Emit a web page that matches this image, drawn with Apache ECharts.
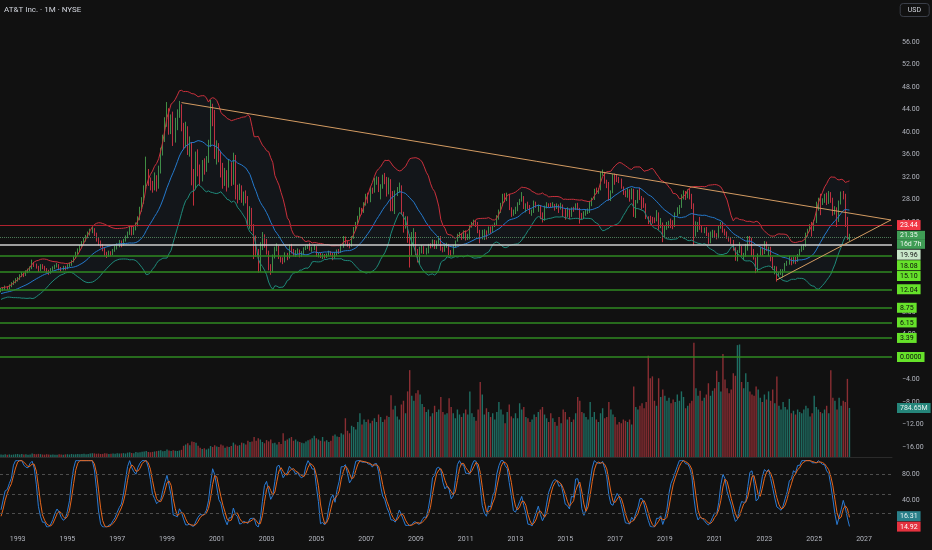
<!DOCTYPE html>
<html><head><meta charset="utf-8">
<script src="https://cdn.jsdelivr.net/npm/echarts@6/dist/echarts.min.js"></script>
<style>html,body{margin:0;padding:0;background:#111111;}#c{width:932px;height:550px;}</style>
</head><body><div id="c"></div>
<script>
// ---------- DATA (monthly) ----------
// closes before the visible window (used only to warm up the indicators)
const warmupClose = [
 8.6, 8.9, 9.1, 9.0, 9.3, 9.5, 9.8, 9.6, 9.9, 9.7, 9.4, 9.5,
 9.6, 9.4, 9.7, 9.9, 10.2, 10.0, 9.8, 9.5, 9.7, 10.1, 10.4, 10.6,
 10.9, 11.2, 11.0, 10.8, 11.1, 10.9, 11.3, 11.5, 11.8, 11.6, 11.4, 12.0,
 11.8, 11.5, 11.6, 11.9
];
const firstMonth = '1992-05';
// monthly closes May 1992 .. Jun 2026
const closes = [
 11.9, 12.1, 12.4, 12.2, 12.7, 13.0, 13.4, 13.7,
 13.9, 14.4, 14.8, 14.6, 15.1, 15.4, 15.8, 16.7, 16.3, 16.0, 15.5, 16.2,
 15.9, 15.6, 15.2, 15.0, 15.5, 15.8, 16.1, 16.3, 15.7, 15.6, 15.9, 15.8,
 16.2, 16.4, 16.9, 17.6, 18.4, 18.9, 19.6, 20.2, 20.8, 21.3, 21.9, 22.4,
 22.6, 21.8, 20.9, 20.3, 19.8, 19.2, 18.3, 18.0, 18.5, 18.2, 18.9, 19.4,
 19.7, 20.4, 20.0, 20.7, 21.3, 21.9, 23.0, 22.0, 22.8, 23.4, 24.6, 26.3,
 27.6, 29.8, 32.8, 31.2, 30.4, 30.0, 31.8, 30.6, 33.2, 36.4, 38.6, 41.6,
 43.6, 40.2, 42.3, 38.6, 41.2, 43.4, 44.6, 40.8, 38.2, 40.0, 36.8, 37.6,
 32.6, 30.2, 35.6, 33.4, 31.8, 34.2, 33.6, 35.0, 38.0, 43.8, 43.4, 36.3,
 36.9, 36.2, 33.9, 31.4, 32.5, 30.5, 34.3, 31.1, 35.8, 29.0, 28.4, 29.8,
 28.4, 28.7, 28.4, 23.6, 26.1, 23.2, 21.1, 18.8, 15.3, 19.5, 21.6, 20.6,
 18.6, 15.7, 15.3, 17.8, 19.2, 19.5, 17.7, 17.1, 16.9, 18.2, 17.6, 19.8,
 18.7, 18.2, 18.6, 18.9, 18.0, 18.5, 19.2, 19.5, 19.7, 19.2, 19.2, 19.6,
 18.1, 18.2, 18.0, 18.1, 17.9, 18.1, 18.6, 18.3, 18.2, 18.2, 18.9, 18.6,
 19.7, 21.0, 20.5, 19.9, 19.8, 21.2, 22.8, 23.6, 24.8, 26.1, 25.8, 27.2,
 28.6, 28.0, 29.9, 29.4, 31.4, 31.5, 29.8, 30.3, 32.1, 31.8, 29.0, 31.6,
 29.3, 26.4, 29.1, 29.4, 30.3, 25.6, 23.4, 24.3, 21.2, 20.4, 21.7, 21.7,
 18.7, 18.1, 19.2, 19.5, 18.8, 18.8, 19.9, 19.8, 20.5, 19.5, 20.4, 21.3,
 19.3, 18.8, 19.6, 19.8, 18.5, 18.4, 19.7, 20.5, 21.7, 21.7, 21.1, 22.3,
 20.9, 21.6, 23.3, 23.6, 24.0, 23.9, 22.3, 21.7, 21.7, 22.3, 22.0, 23.0,
 22.3, 23.3, 23.7, 25.0, 26.0, 27.1, 28.8, 27.9, 28.7, 26.3, 25.6, 25.6,
 26.4, 27.3, 27.9, 28.5, 26.6, 26.9, 26.8, 25.7, 25.7, 27.5, 26.8, 26.8,
 25.3, 24.2, 26.7, 27.1, 27.0, 26.9, 27.1, 26.6, 26.8, 26.4, 26.9, 25.5,
 25.0, 26.3, 24.9, 26.3, 26.2, 27.0, 26.4, 25.2, 24.8, 25.5, 25.6, 26.1,
 27.4, 28.0, 29.8, 29.5, 29.8, 32.8, 32.9, 31.1, 30.9, 28.0, 29.3, 32.3,
 32.1, 31.8, 31.6, 30.1, 29.3, 28.7, 29.6, 28.5, 29.8, 25.5, 27.7, 29.6,
 28.5, 27.6, 27.1, 24.9, 24.5, 24.4, 24.3, 24.2, 25.5, 23.3, 23.7, 21.7,
 22.9, 23.6, 23.9, 23.6, 23.3, 25.5, 25.9, 26.8, 28.7, 29.3, 28.4, 29.7,
 28.6, 26.8, 22.2, 23.2, 23.5, 23.0, 22.5, 22.6, 21.7, 20.5, 21.9, 21.9,
 21.7, 21.2, 23.0, 23.9, 22.3, 21.9, 21.3, 20.8, 20.5, 19.2, 17.3, 18.7,
 19.4, 18.0, 18.0, 18.9, 21.3, 21.0, 18.8, 17.5, 15.3, 18.2, 19.3, 18.4,
 20.4, 18.9, 19.3, 17.7, 15.7, 16.0, 14.5, 14.8, 15.0, 15.4, 16.6, 16.8,
 17.7, 16.9, 17.6, 16.9, 18.2, 19.1, 19.3, 19.9, 22.0, 22.5, 23.2, 22.8,
 24.0, 27.3, 28.2, 27.7, 27.8, 28.9, 27.5, 29.2, 28.0, 25.6, 26.4, 24.2,
 27.5, 29.1, 28.7, 23.6, 21.0, 21.35
];
const highs = [
 12.3, 12.4, 12.7, 12.6, 12.9, 13.3, 13.6, 14.0,
 14.2, 14.7, 15.1, 15.0, 15.4, 15.7, 16.1, 17.3, 16.9, 16.6, 16.2, 16.5,
 16.5, 16.2, 15.8, 15.5, 15.8, 16.1, 16.4, 16.7, 16.5, 16.0, 16.2, 16.2,
 16.5, 16.8, 17.2, 17.9, 18.7, 19.3, 19.9, 20.6, 21.2, 21.7, 22.3, 22.8,
 23.1, 22.9, 22.1, 21.3, 20.7, 20.1, 19.5, 18.7, 18.9, 18.8, 19.2, 19.8,
 20.2, 20.8, 20.7, 21.0, 21.6, 22.3, 23.4, 23.3, 23.1, 23.9, 25.0, 26.7,
 28.4, 30.5, 35.6, 33.4, 31.9, 31.3, 32.8, 32.3, 34.0, 37.2, 39.5, 42.6,
 45.3, 44.2, 43.1, 43.6, 42.5, 44.0, 45.5, 44.9, 41.6, 41.8, 41.0, 39.2,
 38.2, 33.4, 36.5, 36.9, 34.2, 35.0, 35.3, 35.7, 38.6, 45.7, 45.0, 43.9,
 38.5, 38.0, 36.5, 34.5, 33.6, 33.2, 35.1, 34.6, 36.3, 35.9, 30.6, 30.8,
 30.5, 29.4, 29.6, 28.6, 26.8, 26.5, 23.6, 21.6, 19.2, 20.4, 22.2, 21.8,
 21.0, 18.9, 16.5, 18.2, 19.6, 20.2, 19.8, 17.9, 17.7, 18.6, 18.5, 20.0,
 20.1, 19.2, 19.0, 19.3, 19.1, 18.8, 19.5, 19.8, 20.0, 20.3, 19.6, 20.0,
 19.7, 18.5, 18.5, 18.4, 18.3, 18.4, 18.9, 18.8, 18.5, 18.6, 19.1, 19.2,
 20.1, 21.5, 21.4, 20.7, 20.3, 21.5, 23.1, 24.0, 25.1, 26.6, 26.5, 27.5,
 29.0, 29.2, 30.2, 30.1, 31.8, 32.1, 32.0, 30.7, 32.4, 32.7, 32.0, 31.9,
 31.6, 29.5, 29.6, 30.2, 31.0, 30.5, 25.8, 25.0, 25.0, 21.8, 22.2, 22.9,
 22.2, 19.2, 19.6, 19.9, 19.7, 19.4, 20.1, 20.2, 20.9, 20.8, 20.7, 21.5,
 21.5, 19.6, 19.9, 20.3, 20.1, 19.0, 19.9, 20.7, 21.9, 22.2, 22.0, 22.5,
 22.5, 21.9, 23.5, 24.0, 24.4, 24.3, 24.0, 22.6, 22.6, 22.7, 22.5, 23.2,
 23.2, 23.5, 23.9, 25.2, 26.2, 27.4, 29.0, 29.1, 29.2, 29.0, 26.6, 26.2,
 26.7, 27.5, 28.1, 29.3, 28.6, 27.3, 27.6, 27.0, 26.2, 27.8, 27.6, 27.1,
 27.0, 25.7, 26.9, 27.5, 27.3, 27.4, 27.5, 27.2, 27.3, 27.1, 27.4, 27.1,
 26.4, 26.6, 26.4, 26.6, 26.7, 27.3, 27.4, 26.5, 25.6, 25.9, 26.2, 26.4,
 27.7, 28.3, 29.9, 30.1, 30.0, 32.9, 33.3, 32.9, 31.5, 31.1, 29.6, 32.5,
 32.6, 32.4, 32.0, 31.7, 30.3, 29.6, 30.0, 29.8, 30.0, 29.9, 27.9, 29.7,
 30.1, 28.6, 28.3, 27.3, 25.0, 25.1, 24.9, 24.8, 26.1, 25.7, 24.7, 23.9,
 23.4, 24.0, 24.2, 24.6, 24.3, 25.7, 26.6, 27.0, 28.9, 29.6, 29.5, 29.8,
 29.9, 29.0, 27.3, 24.1, 24.0, 24.9, 23.4, 23.0, 23.1, 22.1, 22.3, 22.6,
 22.5, 22.0, 23.3, 24.0, 24.0, 22.8, 22.3, 21.4, 21.2, 20.8, 19.5, 19.0,
 20.4, 19.7, 18.5, 20.1, 21.5, 21.5, 21.2, 19.2, 17.7, 18.4, 19.5, 19.6,
 20.6, 20.5, 19.6, 19.6, 17.8, 16.2, 16.1, 15.1, 15.6, 15.6, 16.7, 17.1,
 18.0, 17.7, 17.8, 17.8, 18.3, 19.2, 19.8, 20.0, 22.1, 22.8, 23.6, 24.0,
 24.4, 27.6, 28.3, 29.0, 28.2, 29.0, 29.2, 29.5, 29.3, 28.3, 26.8, 26.6,
 27.8, 29.4, 29.5, 29.0, 24.9, 21.9
];
const lows = [
 11.5, 11.7, 11.9, 11.9, 12.0, 12.4, 12.8, 13.1,
 13.4, 13.7, 14.2, 14.2, 14.4, 14.9, 15.2, 15.6, 16.0, 15.7, 15.1, 15.3,
 15.6, 15.3, 14.9, 14.6, 14.8, 15.3, 15.6, 15.9, 15.4, 15.2, 15.4, 15.4,
 15.6, 16.0, 16.2, 16.8, 17.5, 18.2, 18.8, 19.3, 20.0, 20.5, 21.1, 21.6,
 22.0, 21.5, 20.5, 19.8, 19.4, 18.8, 17.9, 17.6, 17.8, 17.9, 18.1, 18.7,
 19.1, 19.5, 19.5, 19.8, 20.5, 21.1, 21.7, 21.6, 21.7, 22.5, 23.2, 24.3,
 25.8, 27.2, 29.5, 30.4, 29.6, 29.2, 29.6, 29.4, 29.9, 32.6, 35.8, 38.2,
 40.9, 39.5, 39.6, 37.5, 38.1, 40.3, 42.5, 40.1, 36.9, 37.2, 35.9, 35.6,
 30.5, 26.9, 29.8, 32.1, 30.6, 31.2, 32.4, 32.9, 34.5, 37.3, 41.0, 35.2,
 34.2, 34.6, 31.9, 29.9, 30.4, 29.4, 30.1, 30.4, 30.6, 28.0, 27.3, 27.9,
 27.4, 26.9, 27.3, 23.1, 22.8, 22.4, 17.4, 17.8, 15.0, 15.2, 19.0, 19.4,
 18.2, 15.4, 14.6, 15.0, 17.5, 18.8, 17.4, 16.8, 16.5, 16.8, 17.2, 17.5,
 18.4, 17.9, 17.8, 18.3, 17.7, 17.8, 18.2, 19.0, 19.2, 18.9, 18.7, 19.0,
 17.8, 17.7, 17.6, 17.4, 17.5, 17.6, 17.9, 18.0, 17.2, 17.5, 18.0, 18.3,
 18.5, 19.4, 20.1, 19.6, 19.3, 19.6, 21.0, 22.5, 23.5, 24.6, 25.3, 25.6,
 26.9, 27.3, 27.5, 29.0, 29.2, 30.6, 29.3, 28.0, 29.9, 30.7, 28.5, 28.9,
 25.9, 25.9, 25.4, 28.6, 29.2, 25.3, 22.1, 22.8, 20.3, 15.9, 18.0, 19.6,
 18.1, 16.8, 16.5, 18.4, 18.3, 18.2, 18.4, 19.3, 19.5, 19.2, 19.2, 20.1,
 18.9, 18.6, 18.7, 19.4, 18.1, 17.9, 18.2, 19.4, 20.5, 21.2, 20.8, 21.0,
 20.7, 20.8, 20.9, 23.0, 23.3, 23.1, 22.0, 20.2, 20.9, 20.8, 20.9, 21.9,
 21.9, 22.1, 23.1, 23.4, 24.4, 25.6, 26.8, 27.5, 27.7, 26.1, 24.9, 25.1,
 25.4, 25.9, 27.0, 27.6, 26.3, 25.7, 26.3, 25.4, 25.1, 25.6, 26.5, 25.8,
 24.5, 23.9, 24.2, 26.4, 26.6, 26.6, 26.6, 26.0, 26.3, 25.6, 26.2, 24.9,
 24.4, 24.9, 24.5, 24.9, 25.8, 26.1, 26.1, 23.7, 24.5, 24.5, 25.1, 25.4,
 25.6, 26.8, 27.9, 29.0, 29.0, 29.6, 32.2, 30.8, 30.0, 27.8, 27.7, 29.1,
 30.6, 31.1, 30.9, 29.9, 28.8, 28.4, 28.3, 27.6, 28.0, 24.9, 24.7, 27.3,
 27.9, 26.2, 26.5, 24.5, 23.6, 23.5, 23.7, 23.8, 24.1, 22.6, 22.9, 20.4,
 21.1, 22.6, 22.9, 22.9, 22.7, 23.1, 25.0, 25.4, 26.5, 28.0, 27.9, 28.2,
 28.0, 26.3, 19.8, 21.4, 22.2, 22.6, 22.1, 22.0, 21.5, 20.1, 20.2, 21.3,
 21.2, 20.9, 21.1, 22.8, 22.1, 21.6, 21.0, 20.5, 20.1, 18.9, 17.1, 17.0,
 18.5, 17.9, 17.2, 17.8, 18.9, 20.1, 17.9, 17.3, 14.9, 15.1, 18.0, 18.0,
 18.3, 18.8, 17.9, 17.0, 15.5, 14.7, 13.4, 14.2, 14.6, 14.1, 15.2, 16.2,
 16.4, 16.3, 16.6, 16.5, 16.9, 17.9, 18.7, 19.0, 19.6, 21.4, 22.3, 21.4,
 22.4, 23.8, 26.0, 25.2, 27.0, 27.4, 27.0, 27.2, 27.4, 25.1, 25.3, 23.1,
 24.0, 27.1, 28.0, 23.1, 20.8, 20.6
];
// monthly volume, millions of shares
const volumes = [
 40, 35, 45, 38, 42, 36, 40, 45,
 48, 42, 50, 40, 45, 38, 42, 55, 48, 44, 50, 46,
 40, 38, 45, 42, 36, 40, 38, 35, 44, 40, 38, 42,
 45, 40, 48, 42, 46, 50, 44, 48, 52, 46, 50, 55,
 60, 58, 52, 55, 48, 50, 62, 56, 50, 54, 58, 52,
 60, 55, 58, 62, 56, 70, 75, 66, 62, 80, 72, 78,
 85, 90, 95, 80, 76, 82, 88, 94, 100, 110, 92, 98,
 120, 105, 95, 110, 100, 96, 104, 115, 180, 200, 220, 190,
 250, 240, 230, 180, 150, 130, 140, 120, 135, 175, 160, 190,
 170, 160, 200, 185, 150, 170, 160, 175, 230, 200, 180, 190,
 230, 220, 200, 260, 240, 250, 320, 260, 300, 280, 240, 220,
 270, 250, 280, 220, 230, 200, 240, 210, 380, 260, 280, 300,
 320, 260, 280, 250, 240, 230, 220, 250, 270, 280, 300, 340,
 300, 280, 260, 320, 250, 270, 240, 260, 340, 360, 330, 320,
 380, 360, 620, 420, 380, 500, 480, 440, 560, 700, 520, 600,
 560, 600, 540, 580, 620, 560, 680, 640, 560, 600, 660, 640,
 990, 760, 820, 650, 600, 840, 900, 700, 1050, 1390, 980, 900,
 1020, 1070, 1000, 850, 800, 720, 760, 650, 700, 820, 720, 760,
 960, 720, 680, 700, 940, 800, 700, 620, 760, 680, 640, 700,
 760, 680, 1050, 700, 640, 580, 760, 1200, 1000, 680, 780, 720,
 640, 700, 600, 720, 880, 760, 680, 540, 720, 840, 650, 620,
 700, 620, 860, 760, 800, 640, 620, 560, 600, 680, 640, 720,
 760, 800, 680, 620, 560, 700, 620, 560, 500, 640, 540, 760,
 720, 600, 640, 560, 600, 700, 960, 900, 720, 700, 640, 600,
 880, 640, 720, 600, 560, 700, 780, 620, 640, 880, 760, 680,
 640, 520, 560, 540, 600, 580, 560, 600, 520, 1130, 800, 760,
 820, 860, 780, 880, 1620, 1260, 1290, 900, 820, 1260, 960, 1080,
 980, 900, 950, 860, 920, 880, 1000, 900, 1050, 960, 780, 820,
 860, 900, 1830, 1100, 980, 1060, 900, 950, 1000, 1180, 980, 1060,
 1100, 1380, 1200, 1050, 1650, 1240, 1100, 1020, 1080, 1340, 1300, 1790,
 1800, 1200, 1100, 1340, 1200, 1050, 1000, 980, 1130, 1080, 950, 880,
 1000, 920, 1050, 900, 1080, 860, 1290, 820, 760, 880, 800, 760,
 930, 700, 740, 680, 760, 720, 700, 760, 820, 780, 650, 700,
 980, 800, 760, 720, 700, 760, 820, 700, 1390, 950, 900, 760,
 950, 820, 900, 880, 1250, 784.65
];
const monthsShown = 430;               // May 1992 .. Feb 2028
const yearLabels = ['1993','1995','1997','1999','2001','2003','2005','2007','2009','2011','2013','2015','2017','2019','2021','2023','2025','2027'];
const levels = [23.44, 21.35, 19.96, 18.08, 15.10, 12.04, 8.75, 6.15, 3.39, 0];
const levelText = ['23.44', '21.35', '19.96', '18.08', '15.10', '12.04', '8.75', '6.15', '3.39', '0.0000'];
const countdownText = '16d 7h';
const upperTrend = [['1999-08', 45.2], ['2028-02', 24.35]];
const lowerTrend = [['2023-07', 13.7], ['2028-02', 24.35]];
const stochLast = { k: 16.31, d: 14.92 };
const stochGuides = [80, 50, 20];
const title = 'AT&T Inc. · 1M · NYSE';

// ---------- styles (kept apart from the data) ----------
const GREEN_LINE = '#2f8a22', LIME = '#66e22a';
const CLEAR = 'rgba(0,0,0,0)';
const levelStyle = [
  { line: '#b0222f', w: 1.2, type: 'solid',  bg: '#f23645', fg: '#ffffff', dy: 0 },
  { line: '#4d7a57', w: 1,   type: 'dotted', bg: '#3f9c55', fg: '#eaf6ec', dy: 3 },
  { line: '#cfcfcf', w: 1.5, type: 'solid',  bg: '#c8e6c9', fg: '#151515', dy: 10 },
  { line: GREEN_LINE, w: 1.5, type: 'solid', bg: LIME, fg: '#0d0d0d', dy: 10 },
  { line: GREEN_LINE, w: 1.5, type: 'solid', bg: LIME, fg: '#0d0d0d', dy: 4 },
  { line: GREEN_LINE, w: 1.5, type: 'solid', bg: LIME, fg: '#0d0d0d', dy: 0 },
  { line: GREEN_LINE, w: 1.5, type: 'solid', bg: LIME, fg: '#0d0d0d', dy: 0 },
  { line: GREEN_LINE, w: 1.5, type: 'solid', bg: LIME, fg: '#0d0d0d', dy: 0 },
  { line: GREEN_LINE, w: 1.5, type: 'solid', bg: LIME, fg: '#0d0d0d', dy: 0 },
  { line: GREEN_LINE, w: 1.5, type: 'solid', bg: LIME, fg: '#0d0d0d', dy: 0 }
];
const FONT = 'Roboto, "Noto Sans", sans-serif';
const AXIS_TXT = '#b2b5be';

// ---------- categories ----------
const cats = [];
{
  const y0 = +firstMonth.slice(0, 4), m0 = +firstMonth.slice(5) - 1;
  for (let k = 0; k < monthsShown; k++) {
    const a = y0 * 12 + m0 + k;
    cats.push(Math.floor(a / 12) + '-' + String(a % 12 + 1).padStart(2, '0'));
  }
}

// ---------- indicators computed from the closes ----------
const allClose = warmupClose.concat(closes);
const W = warmupClose.length;
const N = allClose.length;
const bbU = [], bbB = [], bbL = [];
for (let i = 0; i < N; i++) {
  if (i < 19) { bbU.push(null); bbB.push(null); bbL.push(null); continue; }
  let s = 0; for (let j = i - 19; j <= i; j++) s += allClose[j];
  const mean = s / 20;
  let v = 0; for (let j = i - 19; j <= i; j++) v += (allClose[j] - mean) ** 2;
  const sd = Math.sqrt(v / 20);
  bbB.push(mean); bbU.push(mean + 2 * sd); bbL.push(mean - 2 * sd);
}
function rsi(src, n) {
  const out = new Array(src.length).fill(null);
  let ag = 0, al = 0;
  for (let i = 1; i < src.length; i++) {
    const ch = src[i] - src[i - 1], g = Math.max(ch, 0), l = Math.max(-ch, 0);
    if (i <= n) { ag += g; al += l; if (i === n) { ag /= n; al /= n; out[i] = al === 0 ? 100 : 100 - 100 / (1 + ag / al); } }
    else { ag = (ag * (n - 1) + g) / n; al = (al * (n - 1) + l) / n; out[i] = al === 0 ? 100 : 100 - 100 / (1 + ag / al); }
  }
  return out;
}
function smaArr(src, n) {
  return src.map((_, i) => {
    if (i < n - 1) return null;
    let s = 0; for (let j = i - n + 1; j <= i; j++) { if (src[j] == null) return null; s += src[j]; }
    return s / n;
  });
}
const r = rsi(allClose, 14);
const st = r.map((_, i) => {
  if (i < 13) return null;
  let lo = Infinity, hi = -Infinity;
  for (let j = i - 13; j <= i; j++) { if (r[j] == null) return null; lo = Math.min(lo, r[j]); hi = Math.max(hi, r[j]); }
  return hi - lo === 0 ? 50 : 100 * (r[i] - lo) / (hi - lo);
});
const K = smaArr(st, 3), D = smaArr(K, 3);

// ---------- visible series ----------
const candleData = [], volData = [];
for (let i = 0; i < closes.length; i++) {
  const o = i === 0 ? warmupClose[W - 1] : closes[i - 1];
  const c = closes[i];
  candleData.push([o, c, Math.min(lows[i], o, c), Math.max(highs[i], o, c)]);
  volData.push({ value: volumes[i], itemStyle: { color: c >= o ? '#1f6e63' : '#8a2e33' } });
}
const vis = a => a.slice(W);
const upV = vis(bbU), baseV = vis(bbB), lowV = vis(bbL);
const diffV = upV.map((u, i) => u - lowV[i]);
const kV = vis(K).map(v => v == null ? null : +v.toFixed(2));
const dV = vis(D).map(v => v == null ? null : +v.toFixed(2));

function boxLabel(lines, s, extraB) {
  const rich = {
    g: { lineHeight: Math.abs(s.dy) * 2 || 1, fontSize: 1 },
    b: Object.assign({ backgroundColor: s.bg, color: s.fg, fontSize: 7, lineHeight: 8, padding: [2, 3, 1, 3], fontFamily: FONT }, extraB || {})
  };
  const body = lines.map(t => '{b|' + t + '}').join('\n');
  let fmt;
  if (s.dy > 0) fmt = '{g| }\n' + body;
  else if (s.dy < 0) fmt = body + '\n{g| }';
  else fmt = body;
  return { show: true, position: 'end', distance: 5, formatter: fmt, rich };
}

const levelMarks = levels.map((v, i) => {
  const s = levelStyle[i];
  const label = i === 1
    ? boxLabel([levelText[i], countdownText], s, { lineHeight: 9, width: 22, padding: [1, 3, 1, 3] })
    : boxLabel([levelText[i]], s);
  return { yAxis: v, lineStyle: { color: s.line, width: s.w, type: s.type, opacity: 1 }, label };
});
const trendStyle = { color: '#d39b62', width: 1, type: 'solid' };
const trendMarks = [upperTrend, lowerTrend].map(t => [
  { coord: t[0], lineStyle: trendStyle, label: { show: false } },
  { coord: t[1] }
]);
const hiddenLine = { color: CLEAR, width: 0 };

const chart = echarts.init(document.getElementById('c'), null, { renderer: 'canvas' });
const noBounds = { outerBoundsMode: 'none', containLabel: false };
chart.setOption({
  backgroundColor: '#111111',
  animation: false,
  textStyle: { fontFamily: FONT },
  title: [
    { text: title, left: 4, top: 6, padding: 0, textStyle: { color: '#d1d4dc', fontSize: 8, fontWeight: 'normal', fontFamily: FONT } },
    { text: 'USD', right: 3, top: 3, padding: [4, 8, 3, 8], borderColor: '#3a3e48', borderWidth: 1, borderRadius: 3,
      textStyle: { color: '#d1d4dc', fontSize: 7, fontWeight: 'normal', fontFamily: FONT } }
  ],
  grid: [
    Object.assign({ left: 0, right: 40, top: 19.3, bottom: 80.4 }, noBounds),
    Object.assign({ left: 0, right: 40, top: 297, bottom: 93 }, noBounds),
    Object.assign({ left: 0, right: 40, top: 458, bottom: 23 }, noBounds)
  ],
  xAxis: [
    { type: 'category', data: cats, gridIndex: 0, show: false },
    { type: 'category', data: cats, gridIndex: 1, axisLine: { show: true, lineStyle: { color: '#2b2b2b', width: 1 } },
      axisTick: { show: false }, axisLabel: { show: false }, splitLine: { show: false } },
    { type: 'category', data: cats, gridIndex: 2, axisLine: { show: false }, axisTick: { show: false }, splitLine: { show: false },
      axisLabel: { color: AXIS_TXT, fontSize: 7, margin: 9, fontFamily: FONT,
        interval: (idx, val) => val.slice(5) === '01' && yearLabels.indexOf(val.slice(0, 4)) >= 0,
        formatter: v => v.slice(0, 4) } }
  ],
  yAxis: [
    { type: 'value', gridIndex: 0, position: 'right', min: -20, max: 60, interval: 4,
      splitLine: { show: false }, axisLine: { show: false }, axisTick: { show: false },
      axisLabel: { color: AXIS_TXT, fontSize: 7, margin: 10, fontFamily: FONT, showMinLabel: false, showMaxLabel: false,
        formatter: v => (v < 0 ? '\u2212' : '') + Math.abs(v).toFixed(2) } },
    { type: 'value', gridIndex: 1, min: 0, max: 2560, show: false, splitLine: { show: false } },
    { type: 'value', gridIndex: 2, position: 'right', min: 0, max: 104, interval: 40,
      splitLine: { show: false }, axisLine: { show: false }, axisTick: { show: false },
      axisLabel: { color: AXIS_TXT, fontSize: 7, margin: 10, fontFamily: FONT, showMinLabel: false, showMaxLabel: false,
        formatter: v => v.toFixed(2) } }
  ],
  series: [
    { type: 'line', name: 'bbBase', data: lowV, stack: 'bb', symbol: 'none', silent: true,
      lineStyle: { width: 0, opacity: 0 }, xAxisIndex: 0, yAxisIndex: 0 },
    { type: 'line', name: 'bbFill', data: diffV, stack: 'bb', symbol: 'none', silent: true,
      lineStyle: { width: 0, opacity: 0 }, areaStyle: { color: 'rgba(60,110,200,0.07)' }, xAxisIndex: 0, yAxisIndex: 0 },
    { type: 'line', name: 'upper', data: upV, symbol: 'none', silent: true, lineStyle: { color: '#c9303c', width: 1 } },
    { type: 'line', name: 'lower', data: lowV, symbol: 'none', silent: true, lineStyle: { color: '#1f8a7a', width: 1 } },
    { type: 'line', name: 'basis', data: baseV, symbol: 'none', silent: true, lineStyle: { color: '#2479cc', width: 1 } },
    { type: 'candlestick', name: 'T', data: candleData, barWidth: 1.2, xAxisIndex: 0, yAxisIndex: 0,
      itemStyle: { color: '#4caf50', color0: '#f23645', borderColor: '#4caf50', borderColor0: '#f23645', borderWidth: 0.8 },
      markLine: { silent: true, symbol: ['none', 'none'], animation: false, data: levelMarks.concat(trendMarks) } },
    { type: 'bar', name: 'Volume', data: volData, xAxisIndex: 1, yAxisIndex: 1, barWidth: 1.4, silent: true,
      markLine: { silent: true, symbol: ['none', 'none'], animation: false,
        data: [{ yAxis: volumes[volumes.length - 1], lineStyle: hiddenLine,
          label: boxLabel([volumes[volumes.length - 1].toFixed(2) + 'M'], { bg: '#25857a', fg: '#e6f2f0', dy: 0 }) }] } },
    { type: 'line', name: 'K', data: kV, xAxisIndex: 2, yAxisIndex: 2, symbol: 'none', silent: true,
      lineStyle: { color: '#2a7bd4', width: 1 },
      markLine: { silent: true, symbol: ['none', 'none'], animation: false,
        data: stochGuides.map(g => ({ yAxis: g, lineStyle: { color: '#4d4d4d', width: 1, type: [3, 3] }, label: { show: false } }))
          .concat([{ yAxis: stochLast.k, lineStyle: hiddenLine,
            label: boxLabel([stochLast.k.toFixed(2)], { bg: '#2a808a', fg: '#eaf4f6', dy: 0 }) }]) } },
    { type: 'line', name: 'D', data: dV, xAxisIndex: 2, yAxisIndex: 2, symbol: 'none', silent: true,
      lineStyle: { color: '#e8671c', width: 1 },
      markLine: { silent: true, symbol: ['none', 'none'], animation: false,
        data: [{ yAxis: stochLast.d, lineStyle: hiddenLine,
          label: boxLabel([stochLast.d.toFixed(2)], { bg: '#e5323f', fg: '#ffffff', dy: 9.5 }) }] } }
  ]
});
</script>
</body></html>
